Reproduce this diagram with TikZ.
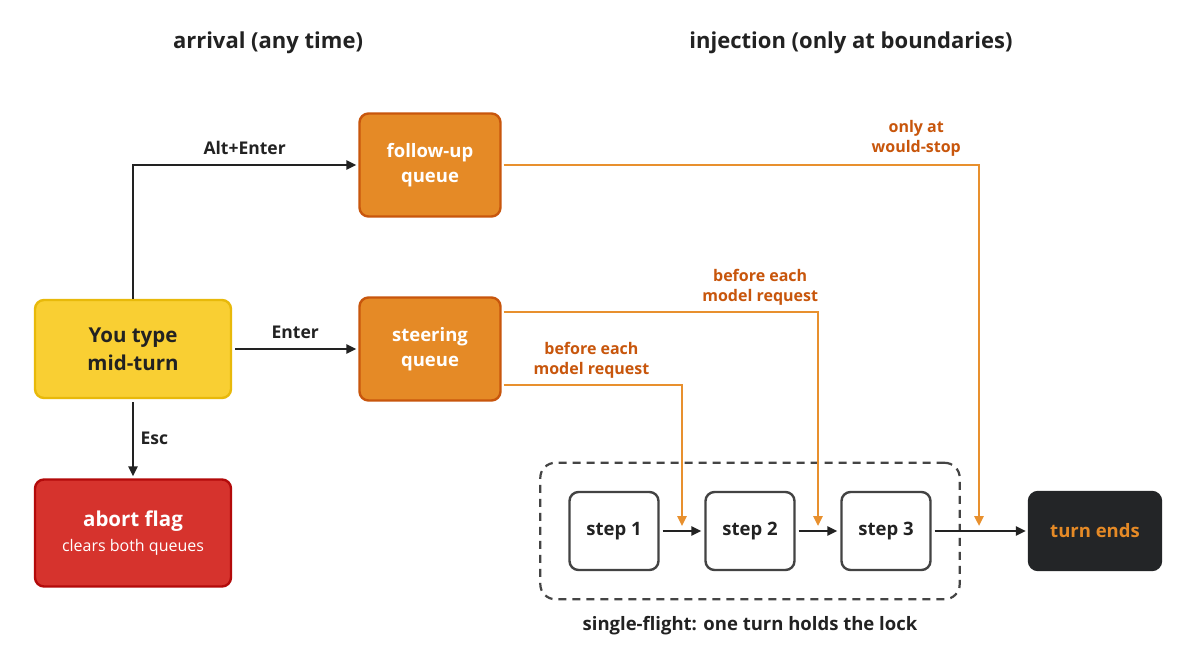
\documentclass[tikz,border=0pt]{standalone}
\usepackage{fontspec}
\setmainfont{Open Sans}
\usetikzlibrary{arrows.meta,positioning,fit}
\definecolor{ink}{HTML}{222222}
\definecolor{youfill}{HTML}{F9CF33}
\definecolor{youedge}{HTML}{E8B90A}
\definecolor{abortfill}{HTML}{D6332D}
\definecolor{abortedge}{HTML}{B30A0A}
\definecolor{qfill}{HTML}{E58A26}
\definecolor{qedge}{HTML}{C8560C}
\definecolor{injline}{HTML}{E8902E}
\definecolor{injtext}{HTML}{C8560C}
\definecolor{endfill}{HTML}{232527}
\definecolor{lockline}{HTML}{444444}

\newcommand{\fs}[2]{\fontsize{#1}{#2}\selectfont}

\begin{document}
\begin{tikzpicture}[x=1pt,y=-1pt,
  box/.style={rounded corners=9pt, line width=2.4pt, align=center,
    minimum width=196pt, minimum height=98pt, font=\fs{20.5}{28}\bfseries},
  queue/.style={box, fill=qfill, draw=qedge, text=white,
    minimum width=141pt, minimum height=103pt, font=\fs{18.5}{25}\bfseries},
  stepbox/.style={rounded corners=9pt, line width=2.4pt, draw=ink!85, fill=white,
    minimum width=89pt, minimum height=78pt, font=\fs{18.5}{22}\bfseries, text=ink},
  flow/.style={draw=ink, line width=2.4pt, -{Triangle[length=10pt,width=9pt]}},
  inject/.style={draw=injline, line width=2.4pt, -{Triangle[length=10pt,width=9pt]}},
  lbl/.style={font=\fs{17.5}{21}\bfseries, text=ink},
  injlbl/.style={font=\fs{16}{20}\bfseries, text=injtext, align=center, inner sep=2pt},
  title/.style={font=\fs{22}{26}\bfseries, text=ink}]
\useasboundingbox[fill=white] (0,0) rectangle (1200,665);

% column titles
\node[title] (arrtitle) at (268,43) {arrival (any time)};
\node[title] (injtitle) at (851,43) {injection (only at boundaries)};

% arrival side
\node[box, fill=youfill, draw=youedge, text=ink] (you) at (133,349) {You type\\mid-turn};
\node[box, fill=abortfill, draw=abortedge, text=white, minimum height=107pt] (abort) at (133,533)
  {abort flag\\[-3pt]{\fs{16}{21}\mdseries clears both queues}};
\node[queue] (follow) at (430,165) {follow-up\\queue};
\node[queue] (steer) at (430,349) {steering\\queue};

\draw[flow] (you.north) |- node[lbl, pos=0.75, above=6pt] {Alt+Enter} ([xshift=-2pt]follow.west);
\draw[flow, shorten <=3pt, shorten >=2pt] (you) -- node[lbl, above=6pt] {Enter} (steer);
\draw[flow, shorten <=3pt, shorten >=2pt] (you) -- node[lbl, right=3pt] {Esc} (abort);

% single-flight turn
\node[stepbox] (s1) at (614,531) {step 1};
\node[stepbox] (s2) at (750,531) {step 2};
\node[stepbox] (s3) at (886,531) {step 3};
\node[draw=lockline, line width=2.2pt, dash pattern=on 8pt off 6pt, rounded corners=15pt,
  inner sep=28pt, fit=(s1)(s3)] (lock) {};
\node[lbl, font=\fs{18.5}{22}\bfseries, below=13pt of lock] (lockcap) {single-flight: one turn holds the lock};
\node[stepbox, fill=endfill, draw=endfill, text=qfill, minimum width=132pt] (end) at (1095,531) {turn ends};

\draw[flow, shorten <=3pt, shorten >=3pt] (s1) -- (s2);
\draw[flow, shorten <=3pt, shorten >=3pt] (s2) -- (s3);
\draw[flow, shorten <=3pt, shorten >=2pt] (s3) -- (end);

% injection points
\coordinate (in12) at (682,526);
\coordinate (in23) at (818,526);
\coordinate (inend) at (979,526);
\draw[inject] ([xshift=2pt,yshift=-36pt]steer.east) -| node[injlbl, pos=0.246, above=3pt] {before each\\model request} (in12);
\draw[inject] ([xshift=2pt,yshift=37pt]steer.east) -| node[injlbl, pos=0.408, above=3pt] {before each\\model request} (in23);
\draw[inject] ([xshift=2pt]follow.east) -| node[injlbl, pos=0.434, above=5pt] {only at\\would-stop} (inend);
\end{tikzpicture}
\end{document}
